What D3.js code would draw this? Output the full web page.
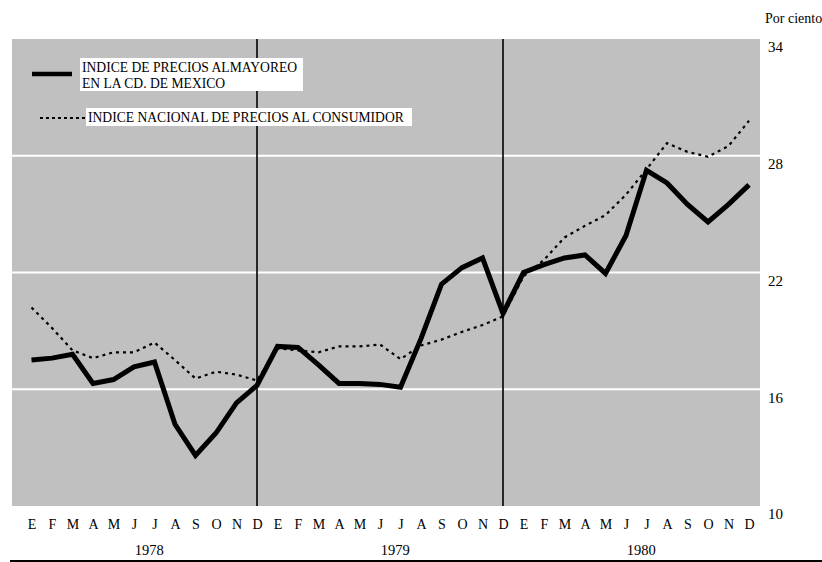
<!DOCTYPE html>
<html>
<head>
<meta charset="utf-8">
<script src="https://cdn.jsdelivr.net/npm/d3@7/dist/d3.min.js"></script>
<style>
  html, body { margin: 0; padding: 0; background: #fff; }
  svg { display: block; }
  svg text { font-family: "Liberation Serif", "Times New Roman", serif !important; fill: #000; }
</style>
</head>
<body>
<svg id="chart" width="822" height="562"></svg>
<script>
// ---- data ----
const monthLabels = ["E","F","M","A","M","J","J","A","S","O","N","D",
                     "E","F","M","A","M","J","J","A","S","O","N","D",
                     "E","F","M","A","M","J","J","A","S","O","N","D"];
const yearLabels = ["1978","1979","1980"];
const yTicks = [10, 16, 22, 28, 34];
const yearBreaks = [11, 23]; // index of December 1978 and December 1979
const seriesNames = ["INDICE DE PRECIOS ALMAYOREO", "EN LA CD. DE MEXICO", "INDICE NACIONAL DE PRECIOS AL CONSUMIDOR"];
const wholesale = [17.5,17.6,17.8,16.3,16.5,17.15,17.4,14.2,12.6,13.75,15.3,16.2,
                   18.2,18.15,17.25,16.3,16.3,16.25,16.1,18.6,21.4,22.25,22.75,19.9,
                   22.0,22.4,22.75,22.9,21.95,23.9,27.25,26.6,25.5,24.6,25.5,26.5];
const consumer = [20.2,19.15,18.0,17.6,17.9,17.9,18.4,17.5,16.55,16.9,16.75,16.45,
                  18.1,18.0,17.9,18.2,18.2,18.3,17.55,18.25,18.55,18.95,19.3,19.75,
                  21.8,22.65,23.8,24.4,24.95,26.0,27.3,28.65,28.2,27.95,28.5,29.8];

// ---- layout ----
const svg = d3.select("#chart");
const plot = {left: 12, right: 760, top: 39, bottom: 506};
const x = d3.scaleLinear().domain([0, 35]).range([31.5, 749]);
const y = d3.scaleLinear().domain([10, 34]).range([plot.bottom, plot.top]);

// background
svg.append("rect")
  .attr("x", plot.left).attr("y", plot.top)
  .attr("width", plot.right - plot.left).attr("height", plot.bottom - plot.top)
  .attr("fill", "#c0c0c0");

// white gridlines
svg.append("g").selectAll("line")
  .data(yTicks.filter(t => t > 10 && t < 34))
  .join("line")
  .attr("x1", plot.left).attr("x2", plot.right)
  .attr("y1", d => y(d)).attr("y2", d => y(d))
  .attr("stroke", "#fff").attr("stroke-width", 2);

// vertical year separators
svg.append("g").selectAll("line")
  .data(yearBreaks)
  .join("line")
  .attr("x1", d => x(d)).attr("x2", d => x(d))
  .attr("y1", plot.top).attr("y2", plot.bottom)
  .attr("stroke", "#000").attr("stroke-width", 1.6);

// lines
const line = d3.line().x((d, i) => x(i)).y(d => y(d));
svg.append("path").datum(consumer)
  .attr("d", line).attr("fill", "none")
  .attr("stroke", "#000").attr("stroke-width", 2.2)
  .attr("stroke-dasharray", "3,4");
svg.append("path").datum(wholesale)
  .attr("d", line).attr("fill", "none")
  .attr("stroke", "#000").attr("stroke-width", 5)
  .attr("stroke-linejoin", "miter");

// right axis
const yAxis = d3.axisRight(y).tickValues(yTicks).tickSize(0).tickPadding(0).tickFormat(d3.format("d"));
const gy = svg.append("g").attr("transform", `translate(768,0)`).call(yAxis);
gy.select(".domain").remove();
gy.attr("font-family", null);
gy.selectAll("text").attr("font-size", 15).attr("dy", "0.85em").attr("x", 0);
svg.append("text").attr("x", 765).attr("y", 23).attr("font-size", 14).text("Por ciento");

// bottom axis (months)
const xAxis = d3.axisBottom(x).tickValues(d3.range(36)).tickSize(0).tickPadding(0)
  .tickFormat(i => monthLabels[i]);
const gx = svg.append("g").attr("transform", `translate(0,519)`).call(xAxis);
gx.select(".domain").remove();
gx.attr("font-family", null);
gx.selectAll("text").attr("font-size", 14);

// years
svg.append("g").selectAll("text")
  .data(yearLabels)
  .join("text")
  .attr("x", (d, i) => x(i * 12 + 5.5) + 5)
  .attr("y", 555)
  .attr("text-anchor", "middle")
  .attr("font-size", 14.5)
  .text(d => d);

// bottom rule
svg.append("line").attr("x1", 10).attr("x2", 822).attr("y1", 561).attr("y2", 561)
  .attr("stroke", "#000").attr("stroke-width", 2);

// legend
const lg = svg.append("g");
lg.append("rect").attr("x", 80).attr("y", 58).attr("width", 223).attr("height", 33).attr("fill", "#fff");
lg.append("line").attr("x1", 32).attr("x2", 72).attr("y1", 74).attr("y2", 74)
  .attr("stroke", "#000").attr("stroke-width", 4.5);
lg.append("text").attr("x", 82).attr("y", 72).attr("font-size", 13.6).text(seriesNames[0]);
lg.append("text").attr("x", 82).attr("y", 88).attr("font-size", 13.6).text(seriesNames[1]);
lg.append("rect").attr("x", 86).attr("y", 108).attr("width", 326).attr("height", 18).attr("fill", "#fff");
lg.append("line").attr("x1", 40).attr("x2", 86).attr("y1", 118).attr("y2", 118)
  .attr("stroke", "#000").attr("stroke-width", 2.2).attr("stroke-dasharray", "3,3");
lg.append("text").attr("x", 88).attr("y", 122).attr("font-size", 13.6).text(seriesNames[2]);
</script>
</body>
</html>
